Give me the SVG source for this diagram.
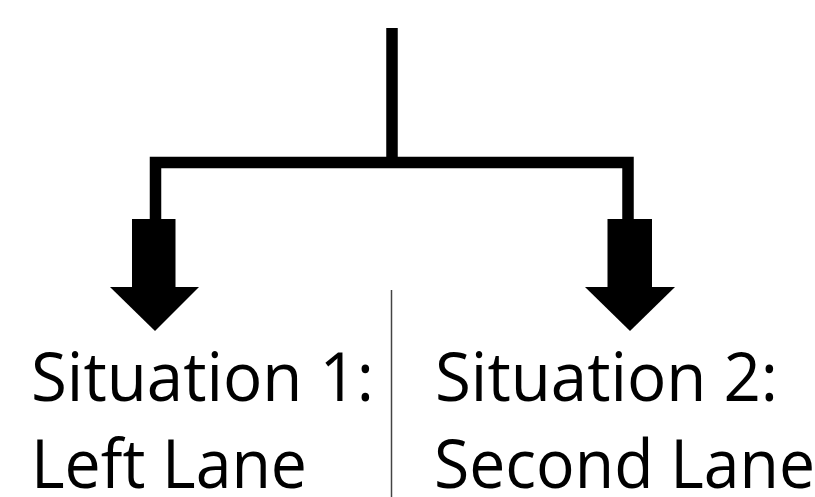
<svg xmlns="http://www.w3.org/2000/svg" width="815" height="497" viewBox="0 0 815 497">
  <style>
    .label { font-family: "Open Sans", "Noto Sans", sans-serif; font-size: 67px; fill: #000; }
    .trunk { fill: none; stroke: #000; stroke-width: 11.5; stroke-linecap: butt; stroke-linejoin: miter; }
    .head { fill: #000; stroke: none; }
    .divider { stroke: #444; stroke-width: 1.5; }
  </style>
  <rect width="815" height="497" fill="#fff"/>

  <!-- branching connector: stem splits into two downward block arrows -->
  <g id="connectors">
    <path class="trunk" d="M 392 28 V 162.5"/>
    <path class="trunk" d="M 155.5 220 V 162.5 H 628 V 220"/>
    <!-- left block arrow -->
    <rect class="head" x="132" y="219" width="43.5" height="69"/>
    <polygon class="head" points="110,287 199,287 155,331"/>
    <!-- right block arrow -->
    <rect class="head" x="607.5" y="219" width="44.5" height="69"/>
    <polygon class="head" points="585,287 675,287 630,331"/>
  </g>

  <!-- thin rule separating the two options -->
  <line id="divider" class="divider" x1="391.5" y1="290" x2="391.5" y2="497"/>

  <g id="situation-1">
    <text class="label" x="31" y="401" textLength="343" lengthAdjust="spacingAndGlyphs">Situation 1:</text>
    <text class="label" x="31" y="488" textLength="276" lengthAdjust="spacingAndGlyphs">Left Lane</text>
  </g>

  <g id="situation-2">
    <text class="label" x="435" y="401" textLength="343" lengthAdjust="spacingAndGlyphs">Situation 2:</text>
    <text class="label" x="434" y="488" textLength="381" lengthAdjust="spacingAndGlyphs">Second Lane</text>
  </g>
</svg>
